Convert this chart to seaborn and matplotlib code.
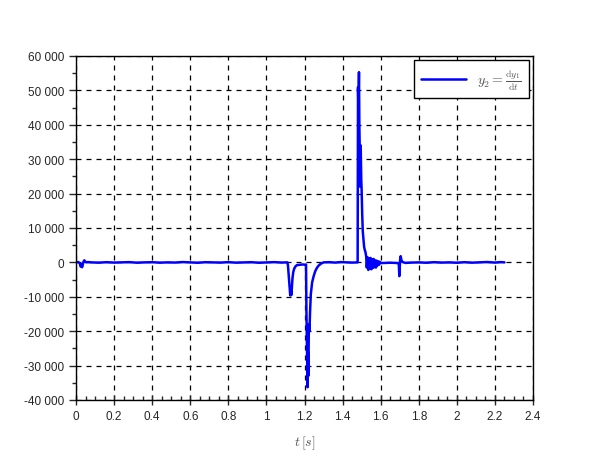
import numpy as np
import pandas as pd
import matplotlib
matplotlib.use("Agg")
import matplotlib.pyplot as plt
from matplotlib.ticker import MultipleLocator, FuncFormatter
import seaborn as sns

# time points [s] and derivative values y2 = dy1/dt
t_start = [0.000, 0.012, 0.020, 0.024, 0.028, 0.032, 0.036, 0.040, 0.044, 0.048, 0.054, 0.060]
y_start = [0, 100, -300, -1200, -600, -1400, -500, 300, 600, 200, 0, 100]

t_flat1 = [0.08, 0.12, 0.16, 0.20, 0.24, 0.28, 0.32, 0.36, 0.40, 0.44, 0.48, 0.52, 0.56,
           0.60, 0.64, 0.68, 0.72, 0.76, 0.80, 0.84, 0.88, 0.92, 0.96, 1.00, 1.04, 1.08, 1.11]
y_flat1 = [0, -80, 50, -60, 0, 70, -90, 0, 50, -80, 0, -50, 90,
           0, -100, 50, 0, -60, 70, -80, 0, 50, -100, 0, 70, -50, 0]

t_dip1 = [1.113, 1.116, 1.119, 1.122, 1.125, 1.128, 1.131, 1.134, 1.137, 1.141,
          1.146, 1.152, 1.160, 1.175, 1.190, 1.205]
y_dip1 = [-800, -3000, -5200, -7800, -9600, -8200, -9500, -7000, -4500, -2800,
          -1800, -1200, -800, -700, -600, -700]

t_dip2 = [1.208, 1.210, 1.212, 1.214, 1.216, 1.218, 1.220, 1.223, 1.226, 1.229,
          1.233, 1.240, 1.248, 1.256, 1.265, 1.273, 1.285, 1.300]
y_dip2 = [-600, -14000, -22000, -30000, -36300, -26000, -33000, -18000, -20000, -14500,
          -9300, -5800, -4000, -2600, -1600, -1000, -400, 0]

t_flat2 = [1.33, 1.36, 1.39, 1.42, 1.45, 1.475]
y_flat2 = [60, -60, 80, 0, -60, 0]

t_spike = [1.479, 1.481, 1.483, 1.485, 1.486, 1.488, 1.490, 1.492, 1.495, 1.498,
           1.500, 1.503, 1.506, 1.510, 1.513, 1.517, 1.520, 1.524]
y_spike = [0, 50900, 45000, 53000, 55300, 40000, 33000, 22000, 34000, 24000,
           21000, 14000, 9000, 6500, 4500, 3500, 3000, 1700]

t_osc = [1.527, 1.531, 1.535, 1.539, 1.543, 1.547, 1.551, 1.555, 1.559, 1.563,
         1.567, 1.571, 1.575, 1.579, 1.583, 1.587, 1.591, 1.595, 1.600]
y_osc = [-1500, 1500, -2200, 1200, -1800, 1300, -2000, 900, -1600, 1000,
         -1400, 600, -1500, 500, -900, 300, -700, 200, -200]

t_tail = [1.62, 1.65, 1.68, 1.695, 1.698, 1.700, 1.702, 1.705, 1.709, 1.715, 1.73,
          1.76, 1.80, 1.84, 1.88, 1.92, 1.96, 2.00, 2.04, 2.08, 2.12, 2.16, 2.20, 2.23, 2.25]
y_tail = [-150, -100, -150, -300, -4000, -1500, 800, 1800, 600, 100, -150,
          -60, 0, -100, 50, -60, 0, -100, 50, -80, 0, 100, -60, 80, 0]

t = t_start + t_flat1 + t_dip1 + t_dip2 + t_flat2 + t_spike + t_osc + t_tail
y2 = y_start + y_flat1 + y_dip1 + y_dip2 + y_flat2 + y_spike + y_osc + y_tail
df = pd.DataFrame({"t": t, "y2": y2})

sns.set_style("white")
plt.rcParams["font.family"] = ["Liberation Sans", "DejaVu Sans"]
plt.rcParams["mathtext.fontset"] = "cm"

fig = plt.figure(figsize=(6.1, 4.6), dpi=100)
ax = fig.add_axes([0.1246, 0.1283, 0.7492, 0.7478])

sns.lineplot(data=df, x="t", y="y2", ax=ax, estimator=None, sort=False,
             color="#0000ff", linewidth=1.8,
             label=r"$y_2 = \frac{\mathrm{d}y_1}{\mathrm{d}t}$")

ax.set_xlim(0, 2.4)
ax.set_ylim(-40000, 60000)
ax.xaxis.set_major_locator(MultipleLocator(0.2))
ax.xaxis.set_minor_locator(MultipleLocator(0.05))
ax.yaxis.set_major_locator(MultipleLocator(10000))
ax.yaxis.set_minor_locator(MultipleLocator(5000))
ax.xaxis.set_major_formatter(FuncFormatter(lambda v, p: "%g" % round(v, 2)))
ax.yaxis.set_major_formatter(FuncFormatter(lambda v, p: "{:,.0f}".format(v).replace(",", " ")))

ax.grid(True, which="major", color="black", linestyle=(0, (4, 4)), linewidth=0.9)
for s in ax.spines.values():
    s.set_color("black")
    s.set_linewidth(1.0)
ax.tick_params(axis="x", which="major", direction="inout", length=7, width=1, labelsize=8.5, pad=4)
ax.tick_params(axis="x", which="minor", direction="in", length=3, width=1)
ax.tick_params(axis="y", which="major", direction="out", length=5, width=1, labelsize=8.5)
ax.tick_params(axis="y", which="minor", direction="out", length=3, width=1)
ax.tick_params(bottom=True, left=True, which="both")

ax.set_xlabel(r"$t\,[s]$", color="#555555", fontsize=10, labelpad=8)
ax.set_ylabel("")

leg = ax.legend(loc="upper right", fontsize=10, frameon=True, fancybox=False,
                framealpha=1, edgecolor="black", handlelength=3.3,
                borderaxespad=0.3, borderpad=0.5)
leg.get_frame().set_linewidth(1.0)
for txt in leg.get_texts():
    txt.set_color("#555555")

fig.savefig("out.png", dpi=100)
